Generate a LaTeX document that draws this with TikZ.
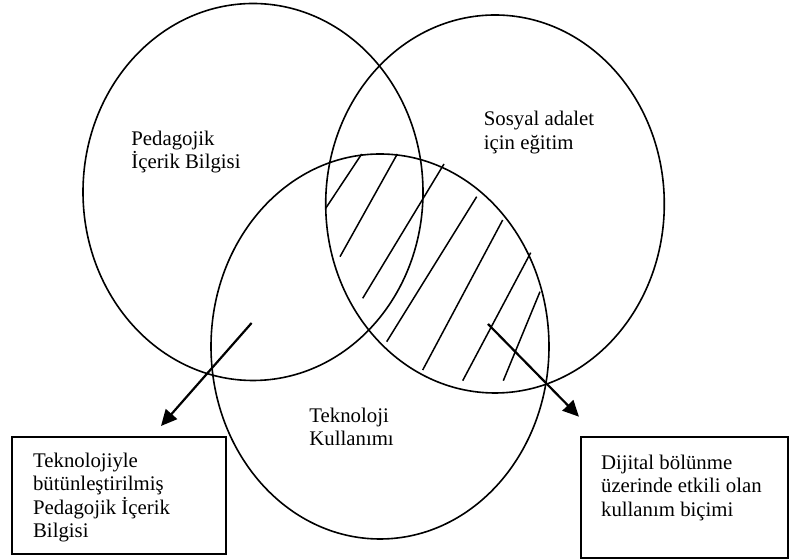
\documentclass[tikz,border=0pt]{standalone}
\usepackage{fontspec}
\setmainfont{Liberation Serif}
\usetikzlibrary{shapes.geometric,arrows.meta}
\begin{document}
\begin{tikzpicture}[x=0.5pt,y=-0.5pt,
  venn/.style={draw,ellipse,line width=0.8pt,inner sep=0pt},
  lbl/.style={anchor=base west,align=left,inner sep=0pt,font=\fontsize{10.4pt}{11.75pt}\selectfont},
  infobox/.style={draw,line width=0.9pt,anchor=north west,inner sep=0pt},
  hatch/.style={line width=0.75pt},
  pointer/.style={line width=1.1pt,-{Triangle[length=8pt,width=7.5pt]}}]
\useasboundingbox (0,0) rectangle (789,560);
% circles
\node[venn,minimum width=170pt,minimum height=188.5pt] (pck) at (253,192) {};
\node[venn,minimum width=169.3pt,minimum height=189pt] (sae) at (495,204) {};
\node[venn,minimum width=169pt,minimum height=192.5pt] (tk) at (380,346.5) {};
% hatching
\draw[hatch] (361.7,154) -- (325.7,208.3);
\draw[hatch] (397.3,154) -- (340,256.7);
\draw[hatch] (444,164) -- (362.7,298.3);
\draw[hatch] (476.7,196.7) -- (386.7,341.7);
\draw[hatch] (502.7,220) -- (422.7,370);
\draw[hatch] (530.7,252.7) -- (462.7,380.7);
\draw[hatch] (540,291.7) -- (503.3,380.7);
% labels (anchor at baseline of last line)
\node[lbl] (tpck) at (131,169) {Pedagojik\\İçerik Bilgisi};
\node[lbl] (tsae) at (483.5,149.5) {Sosyal adalet\\için eğitim};
\node[lbl] (ttk) at (309,445.8) {Teknoloji\\Kullanımı};
% boxes
\node[infobox,minimum width=107pt,minimum height=58.5pt] (boxL) at (11,436) {};
\node[lbl] (tboxL) at (32.7,537.8) {Teknolojiyle\\bütünleştirilmiş\\Pedagojik İçerik\\Bilgisi};
\node[infobox,minimum width=103.5pt,minimum height=60.3pt] (boxR) at (580,436.5) {};
\node[lbl] (tboxR) at (600.7,516.3) {Dijital bölünme\\üzerinde etkili olan\\kullanım biçimi};
% arrows
\coordinate (aLs) at (251.6,323);
\coordinate (aLe) at (161,426);
\coordinate (aRs) at (488,324);
\coordinate (aRe) at (579,416.7);
\draw[pointer] (aLs) -- (aLe);
\draw[pointer] (aRs) -- (aRe);
\end{tikzpicture}
\end{document}
